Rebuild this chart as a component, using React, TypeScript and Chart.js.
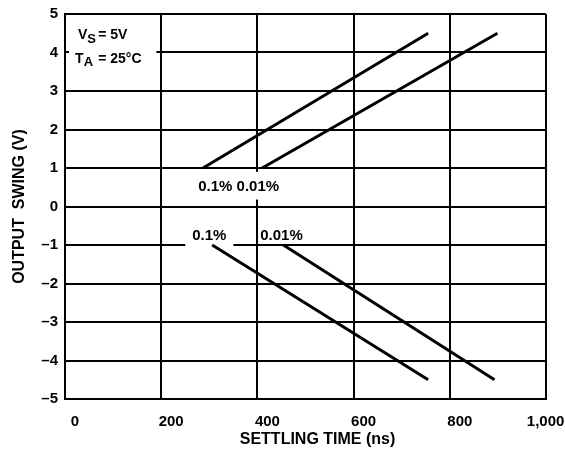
import React, { useEffect, useRef } from "react";
import { Chart, registerables } from "chart.js";

Chart.register(...registerables);

// ---- data ----
const xTickLabels = ["0", "200", "400", "600", "800", "1,000     "];
const yTickLabels = ["–5", "–4", "–3", "–2", "–1", "0", "1", "2", "3", "4", "5"];

// settling time (ns) vs output swing (V)
const upperTenthX = [287, 755];
const upperTenthY = [1, 4.5];
const upperHundredthX = [410, 899];
const upperHundredthY = [1, 4.5];
const lowerTenthX = [306, 755];
const lowerTenthY = [-1, -4.5];
const lowerHundredthX = [454, 893];
const lowerHundredthY = [-1, -4.5];

const FONT = "'Liberation Sans', Arial, Helvetica, sans-serif";

const toPoints = (xs: number[], ys: number[]) => xs.map((x, i) => ({ x, y: ys[i] }));

const annotationPlugin = {
  id: "annotations",
  beforeDatasetsDraw(chart: any) {
    const { ctx, scales, chartArea } = chart;
    const x = scales.x;
    const y = scales.y;
    const px = (v: number) => x.getPixelForValue(v);
    const py = (v: number) => y.getPixelForValue(v);
    ctx.save();
    ctx.fillStyle = "#ffffff";
    // conditions box
    ctx.fillRect(chartArea.left + 4, py(4.7), px(190) - chartArea.left - 4, py(3.55) - py(4.7));
    // "0.1% 0.01%" upper labels box
    ctx.fillRect(px(265), py(0.9), px(460) - px(265), py(0.18) - py(0.9));
    // lower 0.1% label box
    ctx.fillRect(px(250), py(-0.5), px(350) - px(250), py(-1.05) - py(-0.5));

    ctx.fillStyle = "#000";
    ctx.textBaseline = "alphabetic";
    ctx.textAlign = "left";
    const main = `bold 14px ${FONT}`;
    const sub = `bold 13px ${FONT}`;
    const eqX = px(69);
    // V_S = 5V
    let bx = px(27);
    let by = py(4.36);
    ctx.font = main;
    ctx.fillText("V", bx, by);
    bx += ctx.measureText("V").width;
    ctx.font = sub;
    ctx.fillText("S", bx, by + 4);
    ctx.font = main;
    ctx.fillText("= 5V", eqX, by);
    // T_A = 25°C
    bx = px(21);
    by = py(3.74);
    ctx.font = main;
    ctx.fillText("T", bx, by);
    bx += ctx.measureText("T").width;
    ctx.font = sub;
    ctx.fillText("A", bx, by + 3);
    ctx.font = main;
    ctx.fillText("= 25°C", eqX, by);

    // curve labels
    ctx.font = `bold 15px ${FONT}`;
    ctx.textAlign = "center";
    ctx.textBaseline = "middle";
    ctx.fillText("0.1% 0.01%", px(361), py(0.5));
    ctx.fillText("0.1%", px(300), py(-0.75));
    ctx.fillText("0.01%", px(450), py(-0.75));
    ctx.restore();
  },
  afterDraw(chart: any) {
    const { ctx, scales } = chart;
    const x = scales.x;
    ctx.save();
    ctx.fillStyle = "#000";
    ctx.font = `bold 16px ${FONT}`;
    ctx.textAlign = "center";
    ctx.textBaseline = "middle";
    ctx.fillText("SETTLING TIME (ns)", x.getPixelForValue(525), 440);
    ctx.restore();
  },
};

export default function App() {
  const canvasRef = useRef<HTMLCanvasElement | null>(null);

  useEffect(() => {
    if (!canvasRef.current) return;
    const lineStyle = {
      borderColor: "#000",
      borderWidth: 3,
      pointRadius: 0,
      fill: false,
      tension: 0,
    };
    const chart = new Chart(canvasRef.current, {
      type: "line",
      data: {
        datasets: [
          { label: "0.1% upper", data: toPoints(upperTenthX, upperTenthY), ...lineStyle },
          { label: "0.01% upper", data: toPoints(upperHundredthX, upperHundredthY), ...lineStyle },
          { label: "0.1% lower", data: toPoints(lowerTenthX, lowerTenthY), ...lineStyle },
          { label: "0.01% lower", data: toPoints(lowerHundredthX, lowerHundredthY), ...lineStyle },
        ],
      },
      options: {
        responsive: false,
        animation: false,
        events: [],
        layout: { padding: { top: 14, right: 19, bottom: 0, left: 0 } },
        plugins: {
          legend: { display: false },
          tooltip: { enabled: false },
        },
        scales: {
          x: {
            type: "linear",
            min: 0,
            max: 1000,
            afterFit: (s: any) => {
              s.height = 56;
              s.paddingLeft = 0;
              s.paddingRight = 0;
            },
            ticks: {
              stepSize: 200,
              labelOffset: 10,
              padding: 14,
              color: "#000",
              font: { family: FONT, size: 15, weight: "bold" },
              maxRotation: 0,
              autoSkip: false,
              callback: (_v: any, i: number) => xTickLabels[i],
            },
            grid: { color: "#000", lineWidth: 2, drawTicks: false },
            border: { display: true, color: "#000", width: 2 },
          },
          y: {
            type: "linear",
            min: -5,
            max: 5,
            afterFit: (s: any) => {
              s.width = 65;
              s.paddingTop = 0;
              s.paddingBottom = 0;
            },
            ticks: {
              stepSize: 1,
              padding: 7,
              color: "#000",
              font: { family: FONT, size: 15, weight: "bold" },
              autoSkip: false,
              callback: (_v: any, i: number) => yTickLabels[i],
            },
            grid: { color: "#000", lineWidth: 2, drawTicks: false },
            border: { display: true, color: "#000", width: 2 },
            title: {
              display: true,
              text: "OUTPUT  SWING (V)",
              color: "#000",
              font: { family: FONT, size: 16, weight: "bold" },
              padding: { top: 10, bottom: 0 },
            },
          },
        },
      },
      plugins: [annotationPlugin],
    });
    return () => chart.destroy();
  }, []);

  return (
    <div style={{ position: "absolute", left: 0, top: 0, width: 565, height: 455, background: "#fff" }}>
      <canvas ref={canvasRef} width={565} height={455} style={{ display: "block" }} />
    </div>
  );
}
